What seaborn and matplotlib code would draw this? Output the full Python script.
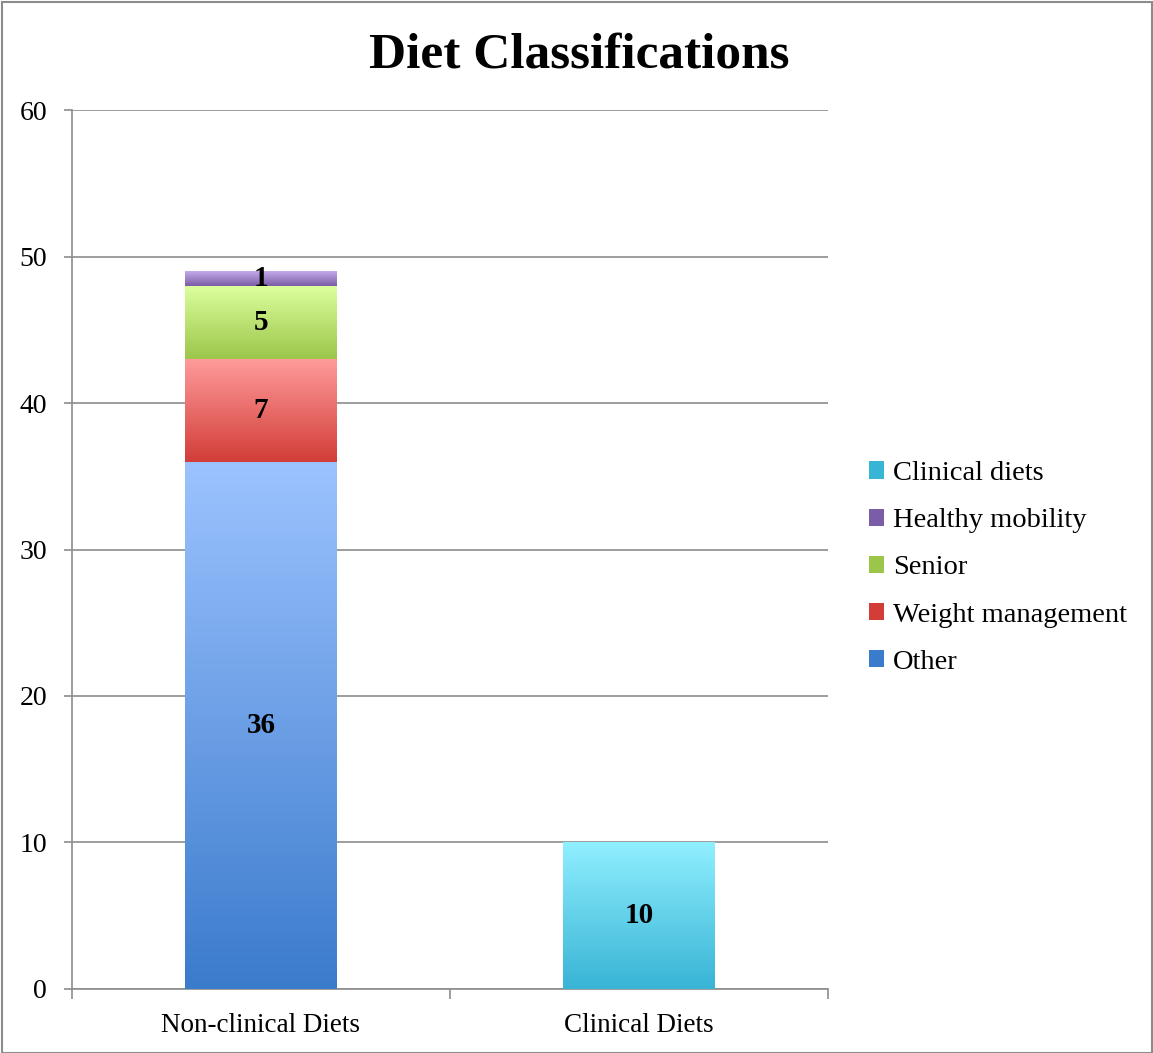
import numpy as np
import pandas as pd
import seaborn as sns
import matplotlib.pyplot as plt
from matplotlib.colors import LinearSegmentedColormap
from matplotlib.patches import Rectangle, Patch, Shadow

# Data
categories = ["Non-clinical Diets", "Clinical Diets"]
series = ["Other", "Weight management", "Senior", "Healthy mobility", "Clinical diets"]
other = [36, 0]
weight_management = [7, 0]
senior = [5, 0]
healthy_mobility = [1, 0]
clinical_diets = [0, 10]
values = [other, weight_management, senior, healthy_mobility, clinical_diets]

# (top colour, bottom colour) gradient for each series
colors = {
    "Other": ("#9cc3ff", "#3b7bcc"),
    "Weight management": ("#ff9b9b", "#d23d38"),
    "Senior": ("#ddff9e", "#9bc64a"),
    "Healthy mobility": ("#c5abec", "#7b5ca7"),
    "Clinical diets": ("#90efff", "#38b4d5"),
}

df = pd.DataFrame([
    {"category": c, "series": s, "value": v[i]}
    for s, v in zip(series, values) for i, c in enumerate(categories)
])

sns.set_style("white")
plt.rcParams["font.family"] = ["Liberation Serif", "DejaVu Serif"]
plt.rcParams["text.color"] = "black"
plt.rcParams["xtick.color"] = "#8c8c8c"
plt.rcParams["ytick.color"] = "#8c8c8c"
plt.rcParams["xtick.labelcolor"] = "black"
plt.rcParams["ytick.labelcolor"] = "black"

fig = plt.figure(figsize=(11.53, 10.53), dpi=100)
ax = fig.add_axes([0.0624, 0.0608, 0.6557, 0.8347])

# Draw each layer with seaborn, then stack it on the previous ones
bottoms = np.zeros(len(categories))
segments = []
for s in series:
    sub = df[df["series"] == s]
    n_before = len(ax.patches)
    sns.barplot(data=sub, x="category", y="value", order=categories,
                width=0.4, color=colors[s][1], ax=ax, zorder=3, errorbar=None)
    new = ax.patches[n_before:]
    for i, p in enumerate(new):
        h = p.get_height()
        p.set_y(bottoms[i])
        p.set_linewidth(0)
        if h > 0:
            segments.append((p, s, bottoms[i], h))
    bottoms = bottoms + sub["value"].to_numpy()

# soft shadows then vertical gradients
for p, s, b, h in segments:
    sh = Shadow(p, 3, -3)
    sh.set_facecolor("#000000")
    sh.set_alpha(0.12)
    sh.set_zorder(2)
    ax.add_patch(sh)

for p, s, b, h in segments:
    x, w = p.get_x(), p.get_width()
    cmap = LinearSegmentedColormap.from_list(s, [colors[s][1], colors[s][0]])
    grad = np.linspace(0, 1, 256).reshape(-1, 1)
    im = ax.imshow(grad, cmap=cmap, extent=[x, x + w, b, b + h], origin="lower",
                   aspect="auto", zorder=4)
    im.set_clip_path(p)
    ax.text(x + w / 2, b + h / 2, f"{h:g}", ha="center", va="center",
            fontsize=21, fontweight="bold", color="black", zorder=5)

ax.set_xlim(-0.5, 1.5)
ax.set_ylim(0, 60)
ax.set_yticks(range(0, 61, 10))
ax.set_xticks(range(len(categories)))
ax.set_xticklabels(categories, fontsize=19.5)
ax.set_xticks([-0.5, 0.5, 1.5], minor=True)
ax.tick_params(axis="x", which="major", length=0, pad=17, bottom=True)
ax.tick_params(axis="x", which="minor", length=7, width=1.2, direction="out", bottom=True)
ax.tick_params(axis="y", length=6, width=1.2, direction="out", labelsize=20, pad=12, left=True)
ax.set_xlabel("")
ax.set_ylabel("")
ax.grid(axis="y", color="#8c8c8c", linewidth=1.2, zorder=0)
ax.set_axisbelow(True)
for side in ["top", "right"]:
    ax.spines[side].set_visible(False)
for side in ["left", "bottom"]:
    ax.spines[side].set_color("#8c8c8c")
    ax.spines[side].set_linewidth(1.2)

fig.text(0.502, 1 - 55 / 1053, "Diet Classifications", ha="center", va="center",
         fontsize=37, fontweight="bold", color="black")

# legend (reverse order like the original)
handles = [Patch(facecolor=colors[s][1], edgecolor="none") for s in series[::-1]]
fig.legend(handles, series[::-1], loc="center left", bbox_to_anchor=(0.7435, 1 - 568 / 1053),
           frameon=False, fontsize=20.5, handlelength=0.55, handleheight=0.55,
           handletextpad=0.3, labelspacing=0.78, borderaxespad=0)

# outer frame
fig.patches.append(Rectangle((0.002, 0.0), 0.997, 0.998, transform=fig.transFigure,
                             fill=False, edgecolor="#8c8c8c", linewidth=1.5))

fig.savefig("out.png", dpi=100)
